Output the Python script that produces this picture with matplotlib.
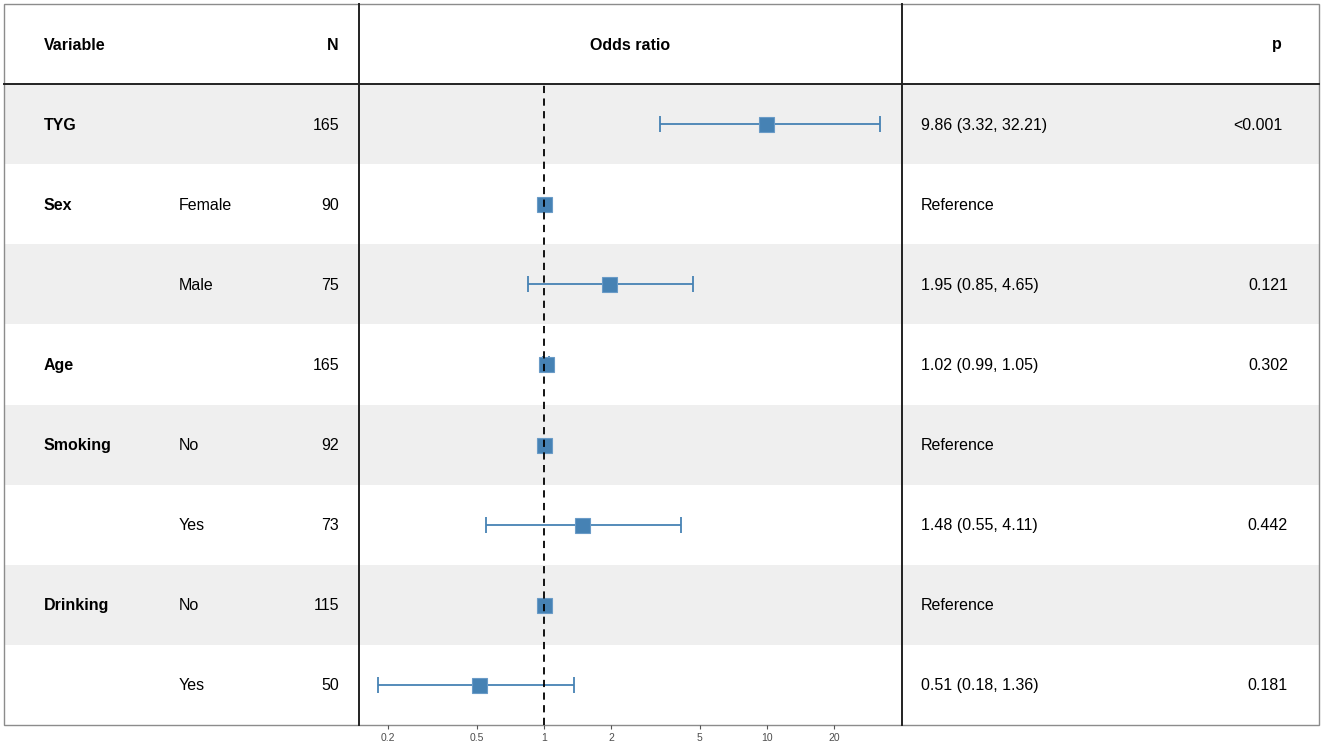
import matplotlib.pyplot as plt
from matplotlib.patches import Rectangle

plt.rcParams['font.family'] = ['Liberation Sans', 'DejaVu Sans']

variables = ['TYG', 'Sex', '', 'Age', 'Smoking', '', 'Drinking', '']
levels = ['', 'Female', 'Male', '', 'No', 'Yes', 'No', 'Yes']
n_obs = [165, 90, 75, 165, 92, 73, 115, 50]
odds = [9.86, 1.0, 1.95, 1.02, 1.0, 1.48, 1.0, 0.51]
lower = [3.32, None, 0.85, 0.99, None, 0.55, None, 0.18]
upper = [32.21, None, 4.65, 1.05, None, 4.11, None, 1.36]
p_vals = ['<0.001', '', '0.121', '0.302', '', '0.442', '', '0.181']
ticks = [0.2, 0.5, 1, 2, 5, 10, 20]

blue = '#4682B4'
W, H = 1325, 743
fig = plt.figure(figsize=(W / 100, H / 100), dpi=100)

# table layer in pixel coordinates
tab = fig.add_axes([0, 0, 1, 1])
tab.set_xlim(0, W)
tab.set_ylim(H, 0)
tab.axis('off')

top, head, bottom = 4, 84, 725
left, right = 4, 1319
x_a, x_b = 359, 902
row_h = (bottom - head) / len(n_obs)

for i in range(len(n_obs)):
    y0 = head + i * row_h
    if i % 2 == 0:
        tab.add_patch(Rectangle((left, y0), right - left, row_h, color='#EFEFEF', lw=0, zorder=0))
    yc = y0 + row_h / 2 + 1
    tab.text(44, yc, variables[i], fontsize=11.5, fontweight='bold', va='center', ha='left')
    tab.text(179, yc, levels[i], fontsize=11.5, va='center', ha='left')
    tab.text(339, yc, str(n_obs[i]), fontsize=11.5, va='center', ha='right')
    if lower[i] is None:
        est = 'Reference'
    else:
        est = f'{odds[i]:.2f} ({lower[i]:.2f}, {upper[i]:.2f})'
    tab.text(921, yc, est, fontsize=11.5, va='center', ha='left')
    px = 1282 if p_vals[i].startswith('<') else 1288
    tab.text(px, yc, p_vals[i], fontsize=11.5, va='center', ha='right')

hy = (top + head) / 2 + 1
tab.text(44, hy, 'Variable', fontsize=11.5, fontweight='bold', va='center', ha='left')
tab.text(339, hy, 'N', fontsize=11.5, fontweight='bold', va='center', ha='right')
tab.text((x_a + x_b) / 2, hy, 'Odds ratio', fontsize=11.5, fontweight='bold', va='center', ha='center')
tab.text(1282, hy, 'p', fontsize=11.5, fontweight='bold', va='center', ha='right')

tab.add_patch(Rectangle((left, top), right - left, bottom - top, fill=False, ec='#8C8C8C', lw=1, zorder=5))
tab.plot([left, right], [head, head], color='#222222', lw=1.4, zorder=5)
tab.plot([x_a, x_a], [top, bottom], color='#222222', lw=1.4, zorder=5)
tab.plot([x_b, x_b], [top, bottom], color='#222222', lw=1.4, zorder=5)

# forest layer
ax = fig.add_axes([x_a / W, (H - bottom) / H, (x_b - x_a) / W, (bottom - head) / H])
ax.patch.set_alpha(0)
ax.set_xscale('log')
ax.set_xlim(10 ** ((x_a - 544) / 223), 10 ** ((x_b - 544) / 223))
ax.set_ylim(len(n_obs) - 0.5, -0.5)
for s in ax.spines.values():
    s.set_visible(False)

for i in range(len(n_obs)):
    if lower[i] is not None:
        ax.errorbar(odds[i], i, xerr=[[odds[i] - lower[i]], [upper[i] - odds[i]]],
                    fmt='none', ecolor=blue, elinewidth=1.3, capsize=6, capthick=1.3, zorder=2)
    ax.plot(odds[i], i, marker='s', ms=10.8, color=blue, mec='#6A9BC7', mew=0.8, zorder=3)

ax.axvline(1, color='black', lw=1.3, ls=(0, (4, 3)), zorder=4)

ax.set_yticks([])
ax.set_xticks(ticks)
ax.set_xticklabels([str(t) for t in ticks])
ax.minorticks_off()
ax.tick_params(axis='x', length=3, width=0.8, color='#555555', labelsize=7.5, labelcolor='#4D4D4D', pad=3)

fig.savefig('out.png', dpi=100)
